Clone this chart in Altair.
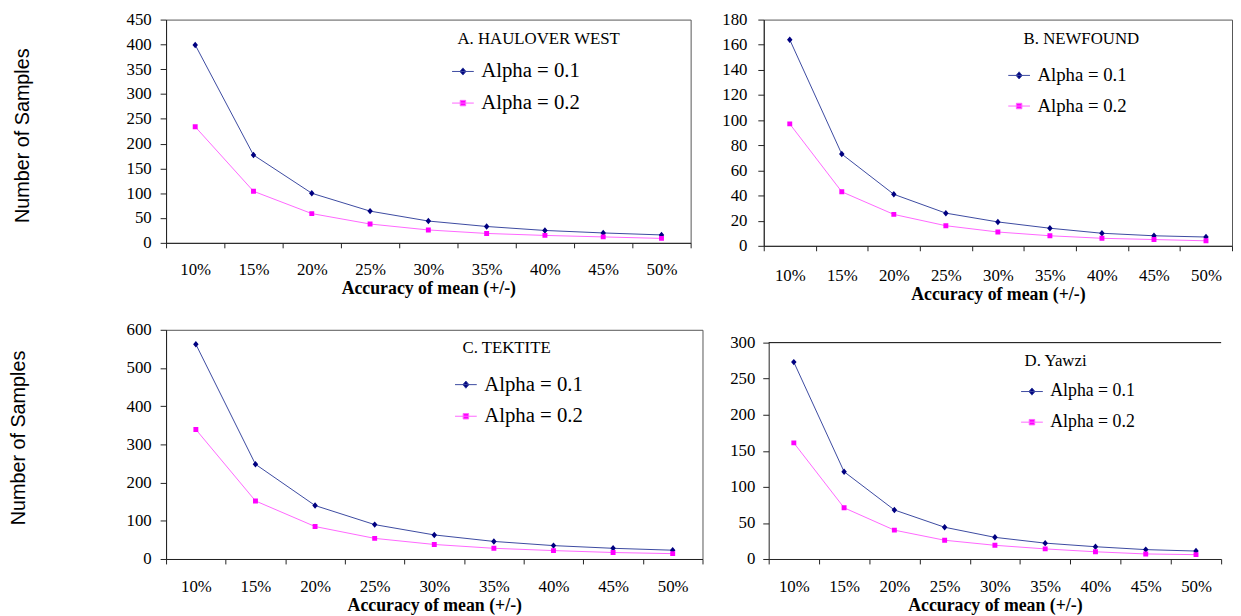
import altair as alt
import pandas as pd

# ---------------- data ----------------
categories = ["10%", "15%", "20%", "25%", "30%", "35%", "40%", "45%", "50%"]
series_names = ["Alpha = 0.1", "Alpha = 0.2"]

haulover_a01 = [399, 177, 100, 64, 44, 33, 25, 20, 16]
haulover_a02 = [234, 104, 59, 38, 26, 19, 15, 12, 9]
newfound_a01 = [164, 73, 41, 26, 19, 14, 10, 8, 7]
newfound_a02 = [97, 43, 25, 16, 11, 8, 6, 5, 4]
tektite_a01 = [562, 248, 140, 90, 63, 46, 35, 28, 23]
tektite_a02 = [339, 152, 85, 54, 38, 28, 22, 17, 14]
yawzi_a01 = [273, 121, 68, 44, 30, 22, 17, 13, 11]
yawzi_a02 = [161, 71, 40, 26, 19, 14, 10, 7, 6]

panel_titles = ["A. HAULOVER WEST", "B. NEWFOUND", "C. TEKTITE", "D. Yawzi"]
y_ticks_a = [0, 50, 100, 150, 200, 250, 300, 350, 400, 450]
y_ticks_b = [0, 20, 40, 60, 80, 100, 120, 140, 160, 180]
y_ticks_c = [0, 100, 200, 300, 400, 500, 600]
y_ticks_d = [0, 50, 100, 150, 200, 250, 300]

x_title = "Accuracy of mean (+/-)"
y_title = "Number of Samples"

# ---------------- styles ----------------
LINE_COLORS = ["#3a48a0", "#ff66ff"]
MARK_COLORS = ["#000080", "#ff00ff"]
DIAMOND = "M-1,0H1M0,-0.33L0.28,0L0,0.33L-0.28,0Z"
SQUARE = "M-1,0H1M-0.25,-0.25H0.25V0.25H-0.25Z"
SYM_SIZE = 484
SERIF = "Liberation Serif"
SANS = "Liberation Sans"
AXIS_COLOR = "#222222"
FRAME_COLOR = "#555555"


def panel(title, s1, s2, yticks, width, height, *, ext, ytitle_pad=None,
          ytitle_y=None, ylab_pad=9, xlab_pad=15, xtitle_pad=-3,
          leg_x=0, leg_y=0, leg_font=21, leg_row=10, txt_x=0, txt_y=0,
          y_range=None, framed=True):
    df = pd.DataFrame({
        "cat": categories * 2,
        "series": [series_names[0]] * len(s1) + [series_names[1]] * len(s2),
        "value": list(s1) + list(s2),
    })
    one = alt.Data(values=[{}])

    xenc = alt.X(
        "cat:N", sort=categories,
        scale=alt.Scale(type="band", paddingInner=0, paddingOuter=0),
        axis=alt.Axis(title=x_title, titleFont=SERIF, titleFontSize=18,
                      titleFontWeight="bold", titleColor="black",
                      titlePadding=xtitle_pad, labelAngle=0, tickSize=5,
                      labelPadding=xlab_pad, tickBand="extent",
                      labelOverlap=False),
    )
    yscale_kw = dict(domain=[yticks[0], yticks[-1]], nice=False, zero=True)
    if y_range is not None:
        yscale_kw["range"] = y_range
    yaxis_kw = dict(values=yticks, tickSize=6, labelPadding=ylab_pad,
                    minExtent=ext, maxExtent=ext, format="d",
                    labelOverlap=False, tickCount=len(yticks))
    if ytitle_pad is not None:
        yaxis_kw.update(title=y_title, titleFont=SANS, titleFontSize=20,
                        titleFontWeight="normal", titleColor="black",
                        titlePadding=ytitle_pad, titleY=ytitle_y)
    else:
        yaxis_kw.update(title=None)
    yenc = alt.Y("value:Q", scale=alt.Scale(**yscale_kw), axis=alt.Axis(**yaxis_kw))

    legend = alt.Legend(
        orient="none", legendX=leg_x, legendY=leg_y, title=None,
        labelFont=SERIF, labelFontSize=leg_font, labelColor="black",
        symbolSize=SYM_SIZE, symbolStrokeWidth=1, labelOffset=7,
        rowPadding=leg_row, padding=0,
    )
    stroke_scale = alt.Scale(domain=series_names, range=LINE_COLORS)
    fill_scale = alt.Scale(domain=series_names, range=MARK_COLORS)
    shape_scale = alt.Scale(domain=series_names, range=[DIAMOND, SQUARE])

    lines = alt.Chart().mark_line(strokeWidth=1).encode(
        x=xenc, y=yenc,
        stroke=alt.Stroke("series:N", scale=stroke_scale, legend=legend),
    )
    points = alt.Chart().mark_point(filled=True, size=SYM_SIZE - 90, strokeWidth=0,
                                    opacity=1).encode(
        x=xenc, y=yenc,
        fill=alt.Fill("series:N", scale=fill_scale, legend=legend),
        stroke=alt.Stroke("series:N", scale=stroke_scale, legend=legend),
        shape=alt.Shape("series:N", scale=shape_scale, legend=legend),
    )
    label = alt.Chart(one).mark_text(
        align="left", baseline="middle", font=SERIF, fontSize=17, color="black"
    ).encode(x=alt.value(txt_x), y=alt.value(txt_y), text=alt.value(title))

    layers = [lines, points, label]
    if not framed:
        top_rule = alt.Chart(alt.Data(values=[{"value": yticks[-1]}])).mark_rule(
            color="black", strokeWidth=1).encode(y=yenc)
        layers.append(top_rule)

    view = (alt.ViewBackground(stroke=FRAME_COLOR, strokeWidth=1) if framed
            else alt.ViewBackground(strokeOpacity=0))
    return alt.layer(*layers, data=df).properties(width=width, height=height, view=view)


A = panel(panel_titles[0], haulover_a01, haulover_a02, y_ticks_a, 531, 226,
          ext=45, ytitle_pad=90, ytitle_y=117, xlab_pad=14, xtitle_pad=2,
          leg_x=289, leg_y=41, leg_font=21, leg_row=10, txt_x=295, txt_y=20)
B = panel(panel_titles[1], newfound_a01, newfound_a02, y_ticks_b, 474, 229,
          ext=40, ylab_pad=11, xlab_pad=17, xtitle_pad=2,
          leg_x=247, leg_y=45, leg_font=19, leg_row=9, txt_x=263, txt_y=20)
C = panel(panel_titles[2], tektite_a01, tektite_a02, y_ticks_c, 543, 232,
          ext=45, ytitle_pad=94, ytitle_y=109, xlab_pad=15, xtitle_pad=2,
          leg_x=292, leg_y=44, leg_font=21, leg_row=10, txt_x=300, txt_y=18)
D = panel(panel_titles[3], yawzi_a01, yawzi_a02, y_ticks_d, 458, 232,
          ext=40, ylab_pad=8, xlab_pad=15, xtitle_pad=2,
          leg_x=255, leg_y=51, leg_font=18, leg_row=10, txt_x=259, txt_y=32,
          y_range=[232, 13], framed=False)

indep = dict(fill="independent", stroke="independent", shape="independent")
row1 = alt.hconcat(A, B, spacing=30).resolve_scale(**indep).resolve_legend(**indep)
row2 = alt.hconcat(C, D, spacing=26).resolve_scale(**indep).resolve_legend(**indep)

chart = (
    alt.concat(row1, row2, columns=1, spacing=16, align="none")
    .resolve_scale(**indep)
    .resolve_legend(**indep)
    .properties(padding={"left": 0, "top": -2, "right": 0, "bottom": 0},
                background="white")
    .configure_axis(labelFont=SERIF, labelFontSize=17, labelColor="black",
                    domainColor=AXIS_COLOR, tickColor=AXIS_COLOR, grid=False,
                    domainWidth=1, tickWidth=1)
    .configure_legend(labelFont=SERIF, labelColor="black")
    .configure_view(stroke=FRAME_COLOR)
)

chart.save("out.html", embed_options={"renderer": "svg", "actions": False})
